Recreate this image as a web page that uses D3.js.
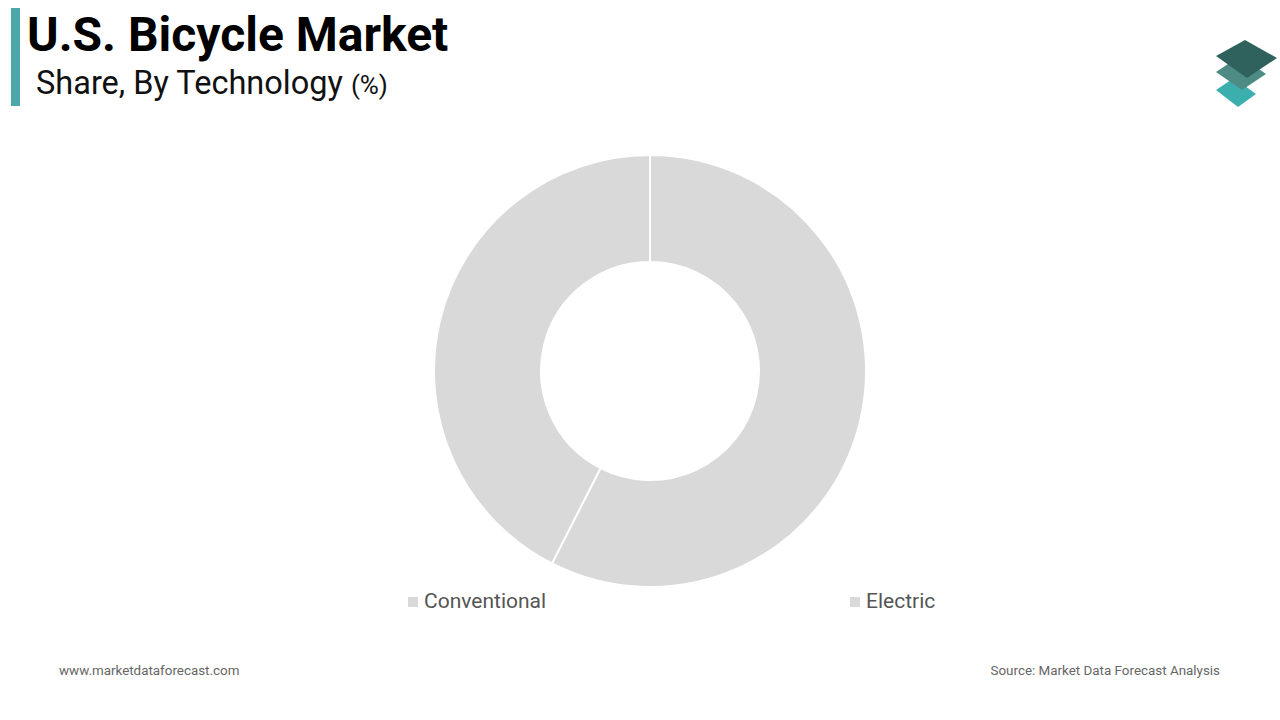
<!DOCTYPE html>
<html><head><meta charset="utf-8">
<script src="https://cdn.jsdelivr.net/npm/d3@7"></script>
<style>
html,body{margin:0;padding:0;background:#fff;}
svg{display:block;font-family:Roboto,"Noto Sans",sans-serif;}
</style></head>
<body>
<svg id="chart" width="1280" height="720"></svg>
<script>
const categories = ["Conventional", "Electric"];
const values = [57.5, 42.5];
const sliceColors = ["#d9d9d9", "#d9d9d9"];
const titleText = "U.S. Bicycle Market";
const subtitleText = "Share, By Technology";
const unitText = "(%)";
const footerLeft = "www.marketdataforecast.com";
const footerRight = "Source: Market Data Forecast Analysis";

const svg = d3.select("#chart");

// header bar + titles
svg.append("rect").attr("x", 11).attr("y", 8).attr("width", 9).attr("height", 98).attr("fill", "#4aa8a8");
svg.append("text").attr("x", 27).attr("y", 51).attr("font-size", 48).attr("font-weight", 700).attr("fill", "#000").text(titleText);
const sub = svg.append("text").attr("x", 36).attr("y", 94).attr("font-size", 32.5).attr("fill", "#111");
sub.append("tspan").text(subtitleText + " ");
sub.append("tspan").attr("font-size", 26).text(unitText);

// logo
const logo = svg.append("g");
const diamonds = [
  {pts: [[1234,78],[1256,94],[1238,107],[1216,90]], c: "#3aafae"},
  {pts: [[1240,56],[1266,74],[1242,90],[1216,72]], c: "#4f8b85"},
  {pts: [[1245,40],[1277,58],[1247,78],[1216,56]], c: "#2f625c"}
];
diamonds.forEach(d => logo.append("polygon").attr("points", d.pts.map(p => p.join(",")).join(" ")).attr("fill", d.c));

// donut
const cx = 650, cy = 371, rOuter = 216, rInner = 109;
const pie = d3.pie().sort(null).value(d => d)(values);
const arc = d3.arc().innerRadius(rInner).outerRadius(rOuter);
const g = svg.append("g").attr("transform", `translate(${cx},${cy})`);
g.selectAll("path").data(pie).enter().append("path")
  .attr("d", arc)
  .attr("fill", (d, i) => sliceColors[i])
  .attr("stroke", "#fff").attr("stroke-width", 2);

// legend
const legendX = d3.scalePoint().domain(categories).range([408, 850]);
const lg = svg.selectAll("g.leg").data(categories).enter().append("g").attr("class", "leg")
  .attr("transform", d => `translate(${legendX(d)},0)`);
lg.append("rect").attr("x", 0).attr("y", 597).attr("width", 10).attr("height", 10).attr("fill", (d, i) => sliceColors[i]);
lg.append("text").attr("x", 16).attr("y", 608).attr("font-size", 21).attr("fill", "#555").text(d => d);

// footer
svg.append("text").attr("x", 59).attr("y", 675).attr("font-size", 13.4).attr("fill", "#666").text(footerLeft);
svg.append("text").attr("x", 1220).attr("y", 675).attr("text-anchor", "end").attr("font-size", 13.4).attr("fill", "#666").text(footerRight);
</script>
</body></html>
